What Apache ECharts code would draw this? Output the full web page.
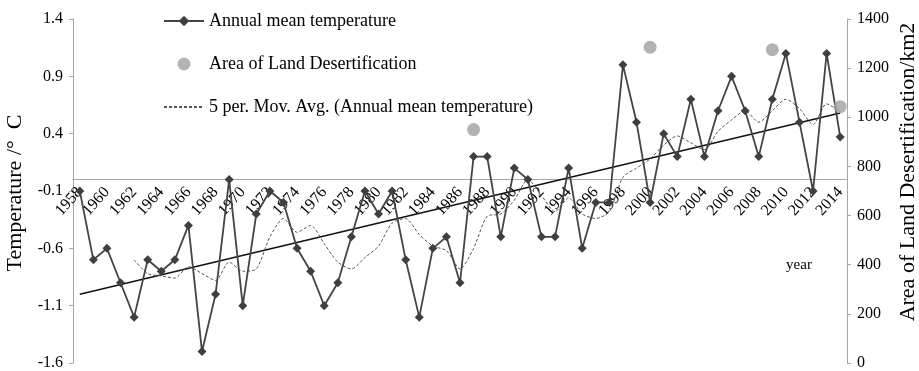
<!DOCTYPE html>
<html>
<head>
<meta charset="utf-8">
<script src="https://cdn.jsdelivr.net/npm/echarts@6/dist/echarts.min.js"></script>
<style>
  html, body { margin: 0; padding: 0; background: #fff; }
  #chart { width: 919px; height: 371px; }
</style>
</head>
<body>
<div id="chart"></div>
<script>
var years = [];
for (var y = 1958; y <= 2014; y++) years.push(String(y));

// annual mean temperature, 1958-2014
var tempVals = [
  -0.1, -0.7, -0.6, -0.9, -1.2, -0.7, -0.8, -0.7, -0.4, -1.5,
  -1.0, 0.0, -1.1, -0.3, -0.1, -0.2, -0.6, -0.8, -1.1, -0.9,
  -0.5, -0.1, -0.3, -0.1, -0.7, -1.2, -0.6, -0.5, -0.9, 0.2,
  0.2, -0.5, 0.1, 0.0, -0.5, -0.5, 0.1, -0.6, -0.2, -0.2,
  1.0, 0.5, -0.2, 0.4, 0.2, 0.7, 0.2, 0.6, 0.9, 0.6,
  0.2, 0.7, 1.1, 0.5, -0.1, 1.1, 0.37
];

// 5 per. moving average, 1962-2014
var movAvg = [
  -0.70, -0.82, -0.84, -0.86, -0.76, -0.82, -0.88, -0.72, -0.80, -0.78,
  -0.50, -0.34, -0.46, -0.40, -0.56, -0.72, -0.78, -0.68, -0.58, -0.38,
  -0.34, -0.48, -0.58, -0.62, -0.78, -0.60, -0.32, -0.30, -0.18, 0.00,
  -0.14, -0.28, -0.16, -0.30, -0.34, -0.28, 0.02, 0.10, 0.18, 0.30,
  0.38, 0.32, 0.26, 0.42, 0.52, 0.60, 0.50, 0.60, 0.70, 0.62,
  0.48, 0.66, 0.59
];

// linear trend end points
var trendYears = ['1958', '2014'];
var trendVals = [-1.0, 0.58];

// area of land desertification (km2)
var desertYears = ['1987', '2000', '2009', '2014'];
var desertVals = [950, 1285, 1275, 1043];

var maData = [null, null, null, null].concat(movAvg);
var trendData = trendYears.map(function(t, i) { return [t, trendVals[i]]; });
var desertData = desertYears.map(function(t, i) { return [t, desertVals[i]]; });

var serif = 'Liberation Serif';
var axisGrey = '#a6a6a6';

// grid geometry (px), used to put the year axis on the zero line
var gridTop = 19, gridBottom = 8, chartH = 371;
var tMin = -1.6, tMax = 1.4;
var plotH = chartH - gridTop - gridBottom;
var zeroOffset = -(plotH * (0 - tMin) / (tMax - tMin));

var chart = echarts.init(document.getElementById('chart'));
chart.setOption({
  animation: false,
  backgroundColor: '#fff',
  textStyle: { fontFamily: serif, color: '#000' },
  grid: { left: 73, right: 72, top: gridTop, bottom: gridBottom, containLabel: false, outerBoundsMode: 'none' },
  legend: {
    orient: 'vertical',
    left: 163,
    top: 11,
    padding: 0,
    itemWidth: 40,
    itemHeight: 13,
    itemGap: 23,
    textStyle: { fontFamily: serif, fontSize: 18, color: '#000', lineHeight: 20 },
    data: [
      { name: 'Annual mean temperature' },
      { name: 'Area of Land Desertification' },
      { name: '5 per. Mov. Avg. (Annual mean temperature)', itemStyle: { opacity: 0 } }
    ]
  },
  xAxis: {
    type: 'category',
    data: years,
    boundaryGap: true,
    position: 'bottom',
    offset: zeroOffset,
    axisLine: { onZero: false, lineStyle: { color: axisGrey, width: 1 } },
    axisTick: { interval: 4, length: 4, lineStyle: { color: axisGrey } },
    axisLabel: {
      interval: 1,
      rotate: 48,
      margin: 10,
      fontFamily: serif,
      fontSize: 16,
      color: '#000'
    },
    splitLine: { show: false }
  },
  yAxis: [
    {
      type: 'value',
      min: tMin,
      max: tMax,
      interval: 0.5,
      axisLine: { show: true, lineStyle: { color: axisGrey } },
      axisTick: { show: true, length: 4, lineStyle: { color: axisGrey } },
      axisLabel: {
        margin: 10,
        fontFamily: serif,
        fontSize: 16,
        color: '#000',
        formatter: function(v) { return (Math.round(v * 10) / 10).toFixed(1); }
      },
      splitLine: { show: false }
    },
    {
      type: 'value',
      min: 0,
      max: 1400,
      interval: 200,
      position: 'right',
      axisLine: { show: true, lineStyle: { color: axisGrey } },
      axisTick: { show: true, length: 4, lineStyle: { color: axisGrey } },
      axisLabel: {
        margin: 10, fontFamily: serif, fontSize: 16, color: '#000',
        formatter: function(v) { return String(v); }
      },
      splitLine: { show: false }
    }
  ],
  graphic: [
    {
      type: 'text',
      x: 15, y: 193,
      rotation: Math.PI / 2,
      style: {
        text: 'Temperature /°  C',
        fontFamily: serif, fontSize: 22, fill: '#000',
        align: 'center', verticalAlign: 'middle'
      }
    },
    {
      type: 'text',
      x: 908, y: 172,
      rotation: Math.PI / 2,
      style: {
        text: 'Area of Land Desertification/km2',
        fontFamily: serif, fontSize: 22, fill: '#000',
        align: 'center', verticalAlign: 'middle'
      }
    },
    {
      type: 'text',
      x: 799, y: 265,
      style: {
        text: 'year',
        fontFamily: serif, fontSize: 15, fill: '#000',
        align: 'center', verticalAlign: 'middle'
      }
    }
  ],
  series: [
    {
      name: 'Linear trend',
      type: 'line',
      data: trendData,
      symbol: 'none',
      lineStyle: { color: '#111', width: 1.6 },
      z: 2
    },
    {
      name: '5 per. Mov. Avg. (Annual mean temperature)',
      type: 'line',
      data: maData,
      symbol: 'none',
      smooth: 0.25,
      itemStyle: { color: '#555' },
      lineStyle: { color: '#555', width: 1, type: [3, 2] },
      z: 2
    },
    {
      name: 'Annual mean temperature',
      type: 'line',
      data: tempVals,
      symbol: 'diamond',
      symbolSize: 9,
      showAllSymbol: true,
      itemStyle: { color: '#3f3f3f' },
      lineStyle: { color: '#444', width: 1.8 },
      z: 3
    },
    {
      name: 'Area of Land Desertification',
      type: 'scatter',
      yAxisIndex: 1,
      data: desertData,
      symbol: 'circle',
      symbolSize: 13,
      itemStyle: { color: '#a0a0a0' },
      z: 4
    }
  ]
});
</script>
</body>
</html>
